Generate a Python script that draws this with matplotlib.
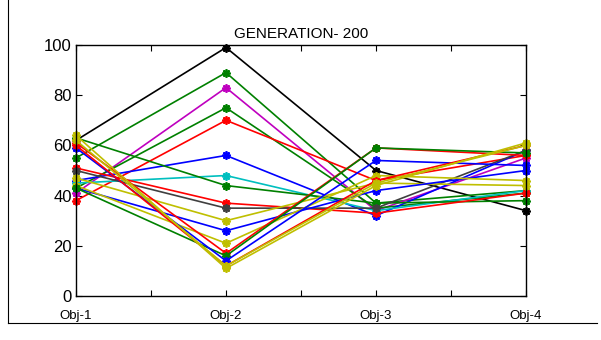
import matplotlib.pyplot as plt
from matplotlib.lines import Line2D

plt.rcParams['font.family'] = ['Liberation Sans', 'DejaVu Sans']

objectives = ['Obj-1', 'Obj-2', 'Obj-3', 'Obj-4']
title = 'GENERATION- 200'

# one row per solution: values on Obj-1..Obj-4
sol_black = [62, 99, 50, 34]
sol_green_a = [55, 89, 37, 42]
sol_magenta = [41, 83, 34, 55]
sol_green_b = [43, 75, 35, 41]
sol_red_a = [38, 70, 46, 56]
sol_blue_a = [46, 56, 32, 58]
sol_cyan = [45, 48, 34, 42]
sol_green_c = [63, 44, 37, 38]
sol_red_b = [51, 37, 33, 41]
sol_gray = [50, 35, 35, 58]
sol_yellow_a = [47, 30, 45, 44]
sol_blue_b = [43, 26, 42, 50]
sol_yellow_b = [44, 21, 48, 46]
sol_red_c = [61, 17, 59, 56]
sol_green_d = [43, 16, 59, 57]
sol_blue_c = [59, 14, 54, 52]
sol_red_d = [60, 12, 46, 60]
sol_yellow_c = [64, 11, 44, 61]
sol_yellow_d = [62, 12, 45, 60]

solutions = [sol_black, sol_green_a, sol_magenta, sol_green_b, sol_red_a,
             sol_blue_a, sol_cyan, sol_green_c, sol_red_b, sol_gray,
             sol_yellow_a, sol_blue_b, sol_yellow_b, sol_red_c, sol_green_d,
             sol_blue_c, sol_red_d, sol_yellow_c, sol_yellow_d]

# matlab-ish colours
k = (0, 0, 0)
g = (0, 0.5, 0)
m = (0.75, 0, 0.75)
r = (1, 0, 0)
b = (0, 0, 1)
c = (0, 0.75, 0.75)
y = (0.75, 0.75, 0)
dg = (0.25, 0.25, 0.25)
colors = [k, g, m, g, r, b, c, g, r, dg, y, b, y, r, g, b, r, y, y]

fig = plt.figure(figsize=(6.01, 3.40), dpi=100)
ax = fig.add_axes([76 / 601, 1 - 296 / 340, 450 / 601, 251 / 340])

xs = [1, 2, 3, 4]
for vals, col in zip(solutions, colors):
    ax.plot(xs, vals, color=col, lw=1.2, marker=(8, 2, 0), ms=6, mew=1.3,
            clip_on=False)

ax.set_xlim(1, 4)
ax.set_ylim(0, 100)
ax.set_xticks([1, 1.5, 2, 2.5, 3, 3.5, 4])
ax.set_xticklabels([objectives[0], '', objectives[1], '', objectives[2], '',
                    objectives[3]], fontsize=9.5)
ax.set_yticks(range(0, 101, 20))
ax.tick_params(axis='y', labelsize=12, pad=3)
ax.tick_params(axis='x', pad=10)
ax.tick_params(direction='in', top=True, right=True, length=4, width=0.8)
for s in ax.spines.values():
    s.set_linewidth(1.0)
ax.set_title(title, fontsize=11, pad=5)

# page frame around the figure
fig.add_artist(Line2D([8 / 601, 8 / 601], [1, 1 - 323 / 340],
                      transform=fig.transFigure, color='k', lw=0.8))
fig.add_artist(Line2D([8 / 601, 597 / 601], [1 - 323 / 340, 1 - 323 / 340],
                      transform=fig.transFigure, color='k', lw=0.8))

fig.savefig('out.png', dpi=100)
